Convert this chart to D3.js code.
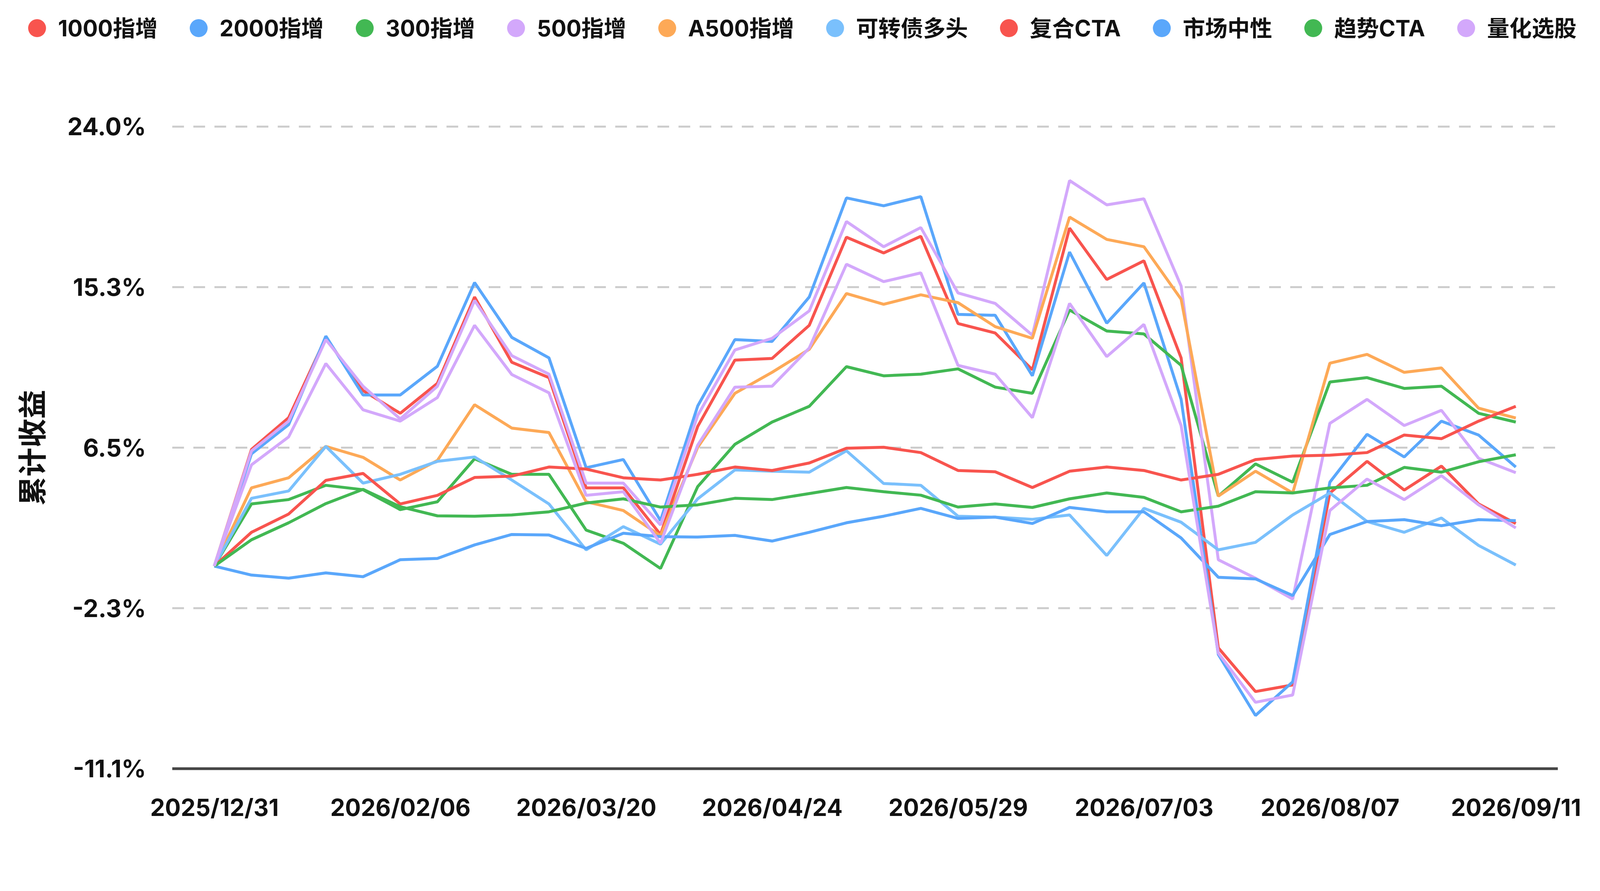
<!DOCTYPE html>
<html>
<head>
<meta charset="utf-8">
<script src="https://cdn.jsdelivr.net/npm/d3@7"></script>
<style>
  html, body { margin: 0; padding: 0; background: #fff; width: 100%; height: 100%; overflow: hidden; }
  #chart { width: 100vw; height: 100vh; }
  text { font-family: Inter, "Noto Sans CJK SC", sans-serif; }
</style>
</head>
<body>
<div id="chart"></div>
<script>
// weekly points, first one is year end
const dates = [
    "2025/12/31", "2026/01/09", "2026/01/16", "2026/01/23", "2026/01/30", "2026/02/06",
    "2026/02/13", "2026/02/27", "2026/03/06", "2026/03/13", "2026/03/20", "2026/03/27",
    "2026/04/03", "2026/04/10", "2026/04/17", "2026/04/24", "2026/04/30", "2026/05/08",
    "2026/05/15", "2026/05/22", "2026/05/29", "2026/06/05", "2026/06/12", "2026/06/18",
    "2026/06/26", "2026/07/03", "2026/07/10", "2026/07/17", "2026/07/24", "2026/07/31",
    "2026/08/07", "2026/08/14", "2026/08/21", "2026/08/28", "2026/09/04", "2026/09/11"
]
const tickDates = ["2025/12/31", "2026/02/06", "2026/03/20", "2026/04/24", "2026/05/29", "2026/07/03", "2026/08/07", "2026/09/11"]

const seriesNames = ["1000指增", "2000指增", "300指增", "500指增", "A500指增", "可转债多头", "复合CTA", "市场中性", "趋势CTA", "量化选股"]

// cumulative return, %
const zz1000 = [0, 6.38, 8.12, 12.5, 9.6, 8.36, 10.0, 14.72, 11.15, 10.31, 4.28, 4.28, 1.73, 7.64, 11.27, 11.36, 13.17, 17.99, 17.13, 18.04, 13.27, 12.75, 10.74, 18.49, 15.68, 16.7, 11.39, -4.47, -6.86, -6.5, 4.0, 5.73, 4.16, 5.47, 3.4, 2.33]
const zz2000 = [0, 6.14, 7.74, 12.58, 9.36, 9.36, 10.93, 15.51, 12.51, 11.39, 5.38, 5.83, 2.49, 8.76, 12.39, 12.29, 14.72, 20.14, 19.71, 20.21, 13.77, 13.72, 10.41, 17.18, 13.29, 15.49, 9.12, -4.83, -8.17, -6.33, 4.59, 7.21, 5.97, 7.93, 7.17, 5.42]
const hs300 = [0, 3.4, 3.64, 4.42, 4.18, 3.09, 3.52, 5.87, 5.02, 5.02, 1.97, 1.25, -0.13, 4.35, 6.66, 7.88, 8.74, 10.91, 10.41, 10.5, 10.79, 9.79, 9.45, 14.01, 12.86, 12.7, 10.98, 3.83, 5.59, 4.59, 10.07, 10.31, 9.72, 9.84, 8.36, 7.88]
const zz500 = [0, 6.3, 7.93, 12.39, 9.84, 8.05, 9.84, 14.53, 11.51, 10.5, 4.54, 4.54, 2.25, 8.24, 11.82, 12.46, 13.96, 18.85, 17.47, 18.52, 14.94, 14.37, 12.63, 21.09, 19.76, 20.09, 15.32, 0.35, -0.66, -1.8, 7.81, 9.12, 7.69, 8.52, 5.9, 5.11]
const a500 = [0, 4.28, 4.83, 6.55, 5.95, 4.71, 5.78, 8.83, 7.55, 7.31, 3.52, 3.04, 1.66, 6.5, 9.45, 10.6, 11.86, 14.91, 14.32, 14.84, 14.41, 13.1, 12.46, 19.09, 17.87, 17.47, 14.6, 3.83, 5.19, 4.0, 11.1, 11.58, 10.6, 10.84, 8.64, 8.1]
const cbLong = [0, 3.71, 4.11, 6.55, 4.54, 5.02, 5.73, 5.97, 4.71, 3.4, 0.89, 2.16, 1.2, 3.68, 5.26, 5.19, 5.14, 6.31, 4.52, 4.42, 2.73, 2.68, 2.56, 2.8, 0.58, 3.16, 2.4, 0.89, 1.3, 2.8, 4.0, 2.44, 1.85, 2.63, 1.13, 0.06]
const mixCta = [0, 1.85, 2.85, 4.69, 5.07, 3.4, 3.87, 4.85, 4.92, 5.42, 5.31, 4.83, 4.71, 5.02, 5.42, 5.23, 5.64, 6.45, 6.5, 6.21, 5.23, 5.16, 4.3, 5.19, 5.42, 5.23, 4.71, 5.02, 5.83, 6.02, 6.07, 6.21, 7.17, 6.97, 7.93, 8.74]
const neutral = [0, -0.49, -0.66, -0.37, -0.58, 0.35, 0.42, 1.16, 1.73, 1.7, 0.97, 1.8, 1.61, 1.59, 1.68, 1.37, 1.85, 2.37, 2.73, 3.16, 2.61, 2.68, 2.33, 3.21, 2.97, 2.97, 1.54, -0.61, -0.7, -1.61, 1.73, 2.44, 2.54, 2.21, 2.54, 2.49]
const trendCta = [0, 1.44, 2.37, 3.42, 4.2, 3.25, 2.75, 2.73, 2.8, 2.97, 3.45, 3.68, 3.23, 3.35, 3.71, 3.64, 3.97, 4.3, 4.07, 3.88, 3.23, 3.4, 3.21, 3.68, 4.0, 3.76, 2.97, 3.28, 4.07, 4.0, 4.28, 4.42, 5.4, 5.14, 5.71, 6.09]
const quantPick = [0, 5.54, 7.07, 11.08, 8.55, 7.93, 9.22, 13.17, 10.48, 9.48, 3.87, 4.07, 1.25, 6.62, 9.79, 9.84, 11.93, 16.51, 15.56, 16.04, 10.98, 10.5, 8.12, 14.37, 11.46, 13.22, 7.69, -4.76, -7.45, -7.05, 3.04, 4.76, 3.64, 4.95, 3.35, 2.09]

const seriesValues = [zz1000, zz2000, hs300, zz500, a500, cbLong, mixCta, neutral, trendCta, quantPick]

// palette of six, it wraps round for the last four series
const palette = ["#f8544e", "#5aa7fb", "#42b853", "#d3a8fb", "#fda957", "#7ac0fc"]

// layout is in units of a 2280 px tall page; width follows the window
const winW = window.innerWidth || 5400
const winH = window.innerHeight || 2280
const height = 2280
const width = winW * height / winH
const plotLeft = 441
const plotRight = width - 108
const plotTop = 324
const plotBottom = 1967
const yMin = -11.08
const yMax = 24.04

const svg = d3.select("#chart").append("svg")
    .attr("viewBox", `0 0 ${width} ${height}`)
    .attr("width", winW)
    .attr("height", winH)
    .style("display", "block")

svg.append("rect")
    .attr("width", width)
    .attr("height", height)
    .attr("fill", "#fff")

const xScale = d3.scalePoint().domain(dates).range([plotLeft, plotRight]).padding(1.13)
const yScale = d3.scaleLinear().domain([yMin, yMax]).range([plotBottom, plotTop])

// 4 equal splits of the value range
const yTicks = d3.range(5).map(i => yMin + i * (yMax - yMin) / 4)

// dashed grid, the lowest one is the solid axis line
svg.append("g")
    .selectAll("line")
    .data(yTicks.slice(1))
    .join("line")
    .attr("x1", plotLeft)
    .attr("x2", plotRight)
    .attr("y1", d => yScale(d))
    .attr("y2", d => yScale(d))
    .attr("stroke", "#cccccc")
    .attr("stroke-width", 5)
    .attr("stroke-dasharray", "30,24")

svg.append("g")
    .selectAll("text")
    .data(yTicks)
    .join("text")
    .attr("x", 374)
    .attr("y", d => yScale(d))
    .attr("dy", "0.36em")
    .attr("text-anchor", "end")
    .attr("font-size", 62)
    .attr("font-weight", 700)
    .attr("fill", "#111")
    .text(d => d.toFixed(1) + "%")

const xAxis = d3.axisBottom(xScale)
    .tickValues(tickDates)
    .tickSize(0)
    .tickPadding(78)

const gx = svg.append("g")
    .attr("transform", `translate(0, ${plotBottom})`)
    .call(xAxis)
gx.select(".domain").remove()
gx.selectAll("text")
    .attr("font-size", 60)
    .attr("font-weight", 700)
    .attr("fill", "#111")
    .attr("font-family", null)

svg.append("line")
    .attr("x1", plotLeft)
    .attr("x2", plotRight)
    .attr("y1", plotBottom)
    .attr("y2", plotBottom)
    .attr("stroke", "#454545")
    .attr("stroke-width", 7)

svg.append("text")
    .attr("transform", `translate(83, ${(plotTop + plotBottom) / 2}) rotate(-90)`)
    .attr("dy", "0.36em")
    .attr("text-anchor", "middle")
    .attr("font-size", 74)
    .attr("font-weight", 700)
    .attr("fill", "#111")
    .text("累计收益")

// lines
const line = d3.line()
    .x((d, i) => xScale(dates[i]))
    .y(d => yScale(d))

svg.append("g")
    .selectAll("path")
    .data(seriesValues)
    .join("path")
    .attr("d", d => line(d))
    .attr("fill", "none")
    .attr("stroke", (d, i) => palette[i % palette.length])
    .attr("stroke-width", 7.5)
    .attr("stroke-linejoin", "bevel")

// legend along the top, items laid out by measured text width
const legend = svg.append("g")
const legendGap = 86
let cursor = 0
seriesNames.forEach((name, i) => {
    const item = legend.append("g").attr("transform", `translate(${cursor}, 0)`)
    item.append("circle")
        .attr("cx", 24)
        .attr("r", 24)
        .attr("fill", palette[i % palette.length])
    const label = item.append("text")
        .attr("x", 80)
        .attr("dy", "0.36em")
        .attr("font-size", 60)
        .attr("font-weight", 700)
        .attr("fill", "#111")
        .text(name)
    cursor += 80 + label.node().getComputedTextLength() + legendGap
})
// shrink the row a little if the window is too narrow for it
const legendWidth = cursor - legendGap
const legendScale = Math.min(1, (width - 72 - 60) / legendWidth)
legend.attr("transform", `translate(72, 72) scale(${legendScale})`)
</script>
</body>
</html>
